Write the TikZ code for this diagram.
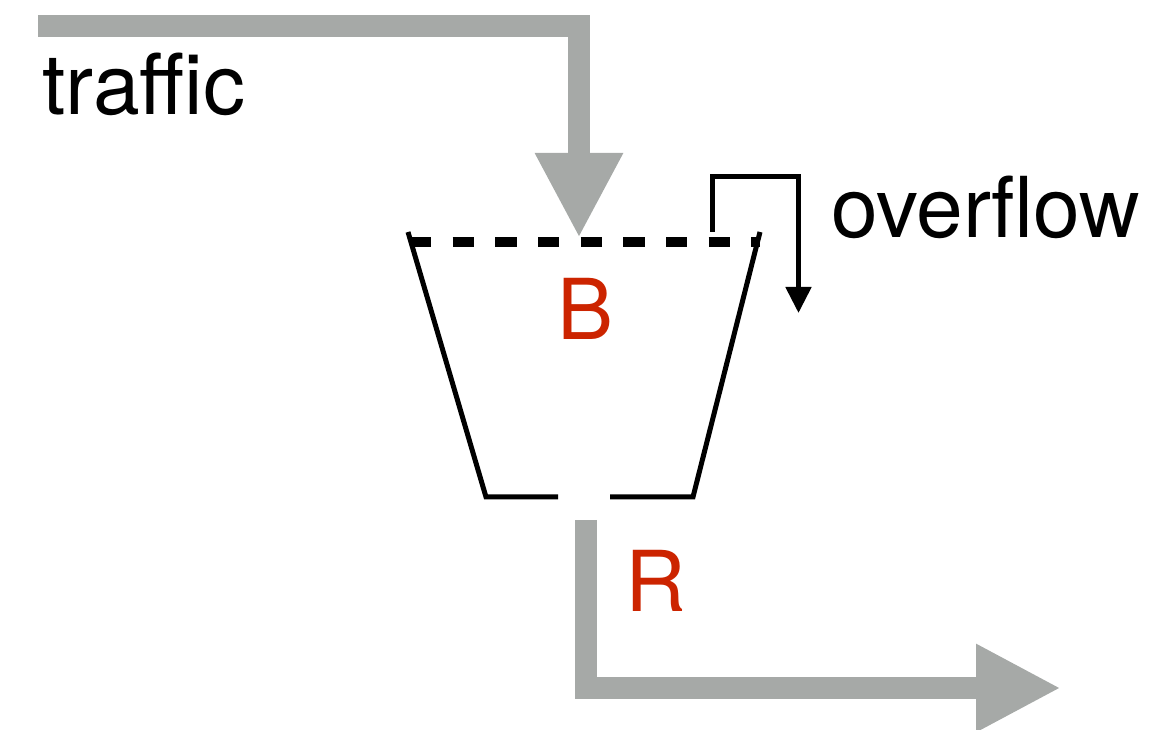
\documentclass[tikz,border=0pt]{standalone}
\usepackage{fontspec}
\setmainfont{TeX Gyre Heros}
\usetikzlibrary{arrows.meta}
\definecolor{flowgray}{RGB}{166,169,167}
\definecolor{markred}{RGB}{204,36,0}
\begin{document}
\begin{tikzpicture}[x=0.75pt,y=-0.75pt,
  flow/.style={draw=flowgray, line width=16.5pt, line join=miter, line cap=butt,
    -{Triangle[length=63.75pt,width=61.5pt]}},
  wall/.style={draw=black, line width=3.75pt, line join=miter},
  rim/.style={draw=black, line width=7pt, dash pattern=on 16pt off 16pt},
  spill/.style={draw=black, line width=3.75pt, line join=miter,
    -{Triangle[length=19.5pt,width=18.75pt]}},
  txt/.style={font=\fontsize{63}{63}\selectfont, inner sep=0pt},
]
\useasboundingbox (0,0) rectangle (1154,730);

% incoming traffic
\coordinate (in0) at (38,26);
\coordinate (in1) at (579,26);
\coordinate (intip) at (579,238);
\draw[flow] (in0) -- (in1) -- (intip);

% bucket rim and walls
\coordinate (tl) at (408,232);
\coordinate (bl) at (486,497);
\coordinate (gapL) at (558,497);
\coordinate (gapR) at (610,497);
\coordinate (br) at (693,497);
\coordinate (tr) at (760,232);
\coordinate (rimL) at (410,242);
\coordinate (rimR) at (760,242);
\draw[rim] (rimL) -- (rimR);
\draw[wall] (tl) -- (bl) -- (gapL);
\draw[wall] (gapR) -- (br) -- (tr);

% overflow
\coordinate (ov0) at (712,232);
\coordinate (ov1) at (712,177);
\coordinate (ov2) at (798.5,177);
\coordinate (ovtip) at (798.5,313);
\draw[spill] (ov0) -- (ov1) -- (ov2) -- (ovtip);

% outgoing rate
\coordinate (out0) at (586,520);
\coordinate (out1) at (586,688);
\coordinate (outtip) at (1061,688);
\draw[flow] (out0) -- (out1) -- (outtip);

% labels
\node[txt, anchor=base west] (traffic) at (42,115) {traffic};
\node[txt, anchor=base west] (overflow) at (831,238) {overflow};
\node[txt, text=markred, anchor=base] (B) at (586,340) {B};
\node[txt, text=markred, anchor=base] (R) at (656,612) {R};
\end{tikzpicture}
\end{document}
